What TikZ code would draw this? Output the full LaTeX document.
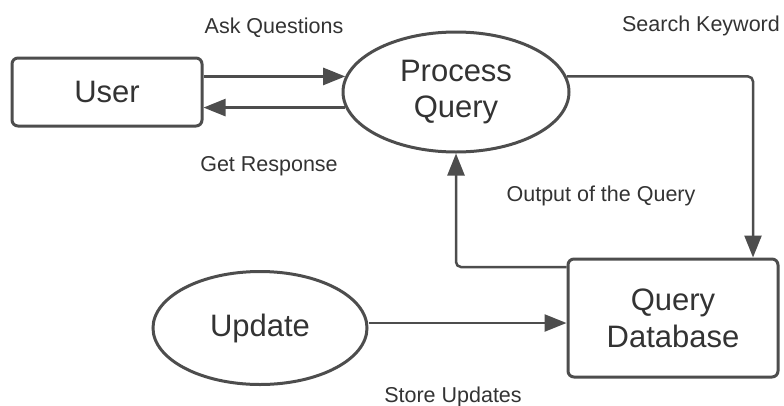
\documentclass[tikz,border=0pt]{standalone}
\usepackage{fontspec}
\setmainfont{Liberation Sans}
\usetikzlibrary{arrows.meta,shapes.geometric}
\definecolor{ink}{HTML}{333333}
\definecolor{edge}{HTML}{4D4D4D}
\begin{document}
\begin{tikzpicture}[x=1pt,y=-1pt,
  proc/.style={ellipse, draw=edge, line width=3pt, inner sep=0pt,
    font=\fontsize{31}{36}\selectfont, text=ink, align=center},
  store/.style={rectangle, rounded corners=6pt, draw=edge, line width=3pt,
    inner sep=0pt, font=\fontsize{31}{37}\selectfont, text=ink, align=center},
  flow/.style={draw=edge, line width=2.5pt, rounded corners=5pt,
    -{Triangle[length=22pt,width=17pt]}},
  lbl/.style={font=\fontsize{21.5}{25}\selectfont, text=ink, anchor=base,
    inner sep=0pt}
]
\useasboundingbox (0,0) rectangle (784,405);

% processes and stores
\node[store, minimum width=190pt, minimum height=68pt] (user) at (107,92) {User};
\node[proc, minimum width=226pt, minimum height=120pt] (pq) at (456,92) {Process\\Query};
\node[store, minimum width=210pt, minimum height=118pt] (db) at (673,318) {Query\\Database};
\node[proc, minimum width=214pt, minimum height=113pt] (upd) at (260,328) {Update};

% data flows
\draw[flow] (user.east |- pq.172) -- (pq.172);
\draw[flow] (pq.188) -- (user.east |- pq.188);
\draw[flow] (pq.8) -| ([xshift=80pt]db.north);
\draw[flow] ([yshift=51pt]db.west) -| (pq.south);
\draw[flow] ([yshift=5pt]upd.east) -- ([yshift=5pt]upd.east -| db.west);

% flow labels
\node[lbl] (lask) at (274,33) {Ask Questions};
\node[lbl] (lget) at (269,171) {Get Response};
\node[lbl] (lsearch) at (701,31) {Search Keyword};
\node[lbl] (lout) at (601,201) {Output of the Query};
\node[lbl] (lstore) at (453,402) {Store Updates};
\end{tikzpicture}
\end{document}
